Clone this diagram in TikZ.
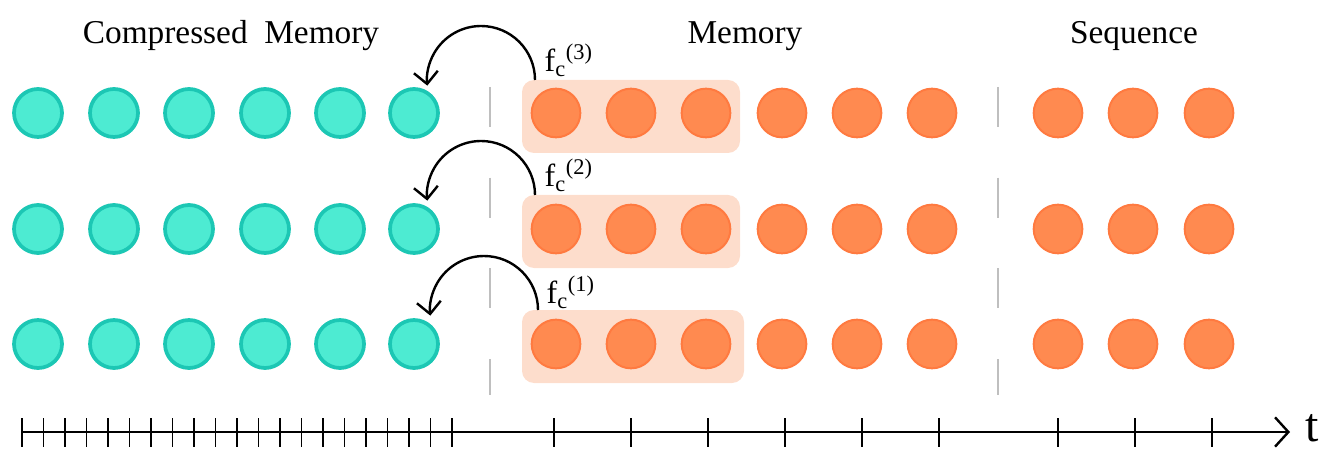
\documentclass[tikz,border=0pt]{standalone}
\usepackage{fontspec}
\setmainfont{Liberation Serif}
\usetikzlibrary{arrows.meta}
\definecolor{tealf}{HTML}{4DEBD2}
\definecolor{tealb}{HTML}{1CC7B4}
\definecolor{orf}{HTML}{FF8A50}
\definecolor{orb}{HTML}{FF7A40}
\definecolor{hl}{HTML}{FDDDCC}
\begin{document}
\begin{tikzpicture}[x=0.75pt,y=-0.75pt,
 tc/.style={circle,draw=tealb,fill=tealf,line width=2.8pt,minimum size=36pt,inner sep=0},
 oc/.style={circle,draw=orb,fill=orf,line width=1.5pt,minimum size=36.5pt,inner sep=0},
 sep/.style={draw=black!25,line width=1.6pt,dash pattern=on 30pt off 38pt},
 farr/.style={line width=1.8pt,-{Straight Barb[length=9pt,width=18pt,line width=1.8pt]}},
 ttl/.style={font=\fontsize{25}{28}\selectfont},
 lab/.style={font=\fontsize{24}{26}\selectfont,anchor=west}]
\useasboundingbox (0,0) rectangle (1330,463);
% highlight boxes
\fill[hl,rounded corners=9pt] (522,80) rectangle (740,153);
\fill[hl,rounded corners=9pt] (522,195) rectangle (740,268);
\fill[hl,rounded corners=9pt] (522,310) rectangle (744,383);
% separators
\draw[sep] (490,87) -- (490,395);
\draw[sep] (998,87) -- (998,395);
% circles
\foreach \r/\y in {1/113,2/229,3/344}{
  \foreach \i/\x in {1/38,2/114,3/189,4/265,5/340,6/414}
    \node[tc] (t\r\i) at (\x,\y) {};
  \foreach \i/\x in {1/556,2/631,3/706,4/782,5/857,6/932,7/1058,8/1133,9/1209}
    \node[oc] (o\r\i) at (\x,\y) {};
}
% compression arrows
\coordinate (s3) at (535,80);
\coordinate (s2) at (535,195);
\coordinate (s1) at (538,310);
\draw[farr] (s3) arc[start angle=0,end angle=-186,radius=54];
\draw[farr] (s2) arc[start angle=0,end angle=-186,radius=54];
\draw[farr] (s1) arc[start angle=0,end angle=-186,radius=54];
\node[lab] (f3) at (540,60) {f\textsubscript{c}\textsuperscript{(3)}};
\node[lab] (f2) at (540,175) {f\textsubscript{c}\textsuperscript{(2)}};
\node[lab] (f1) at (542,292) {f\textsubscript{c}\textsuperscript{(1)}};
% titles
\node[ttl] (cm) at (231,36) {Compressed\ \ Memory};
\node[ttl] (mem) at (745,36) {Memory};
\node[ttl] (seq) at (1134,36) {Sequence};
% axis
\coordinate (a0) at (22,432);
\coordinate (a1) at (1290,432);
\draw[line width=1.8pt,-{Straight Barb[length=10pt,width=22pt,line width=1.8pt]}] (a0) -- (a1);
\node[font=\fontsize{36}{38}\selectfont] (t) at (1312,428) {t};
\foreach \k in {0,...,20} \draw[line width=1pt] (22+\k*21.5,418) -- (22+\k*21.5,447);
\foreach \x in {554,631,708,785,862,939,1058,1135,1212} \draw[line width=1pt] (\x,418) -- (\x,447);
\end{tikzpicture}
\end{document}
